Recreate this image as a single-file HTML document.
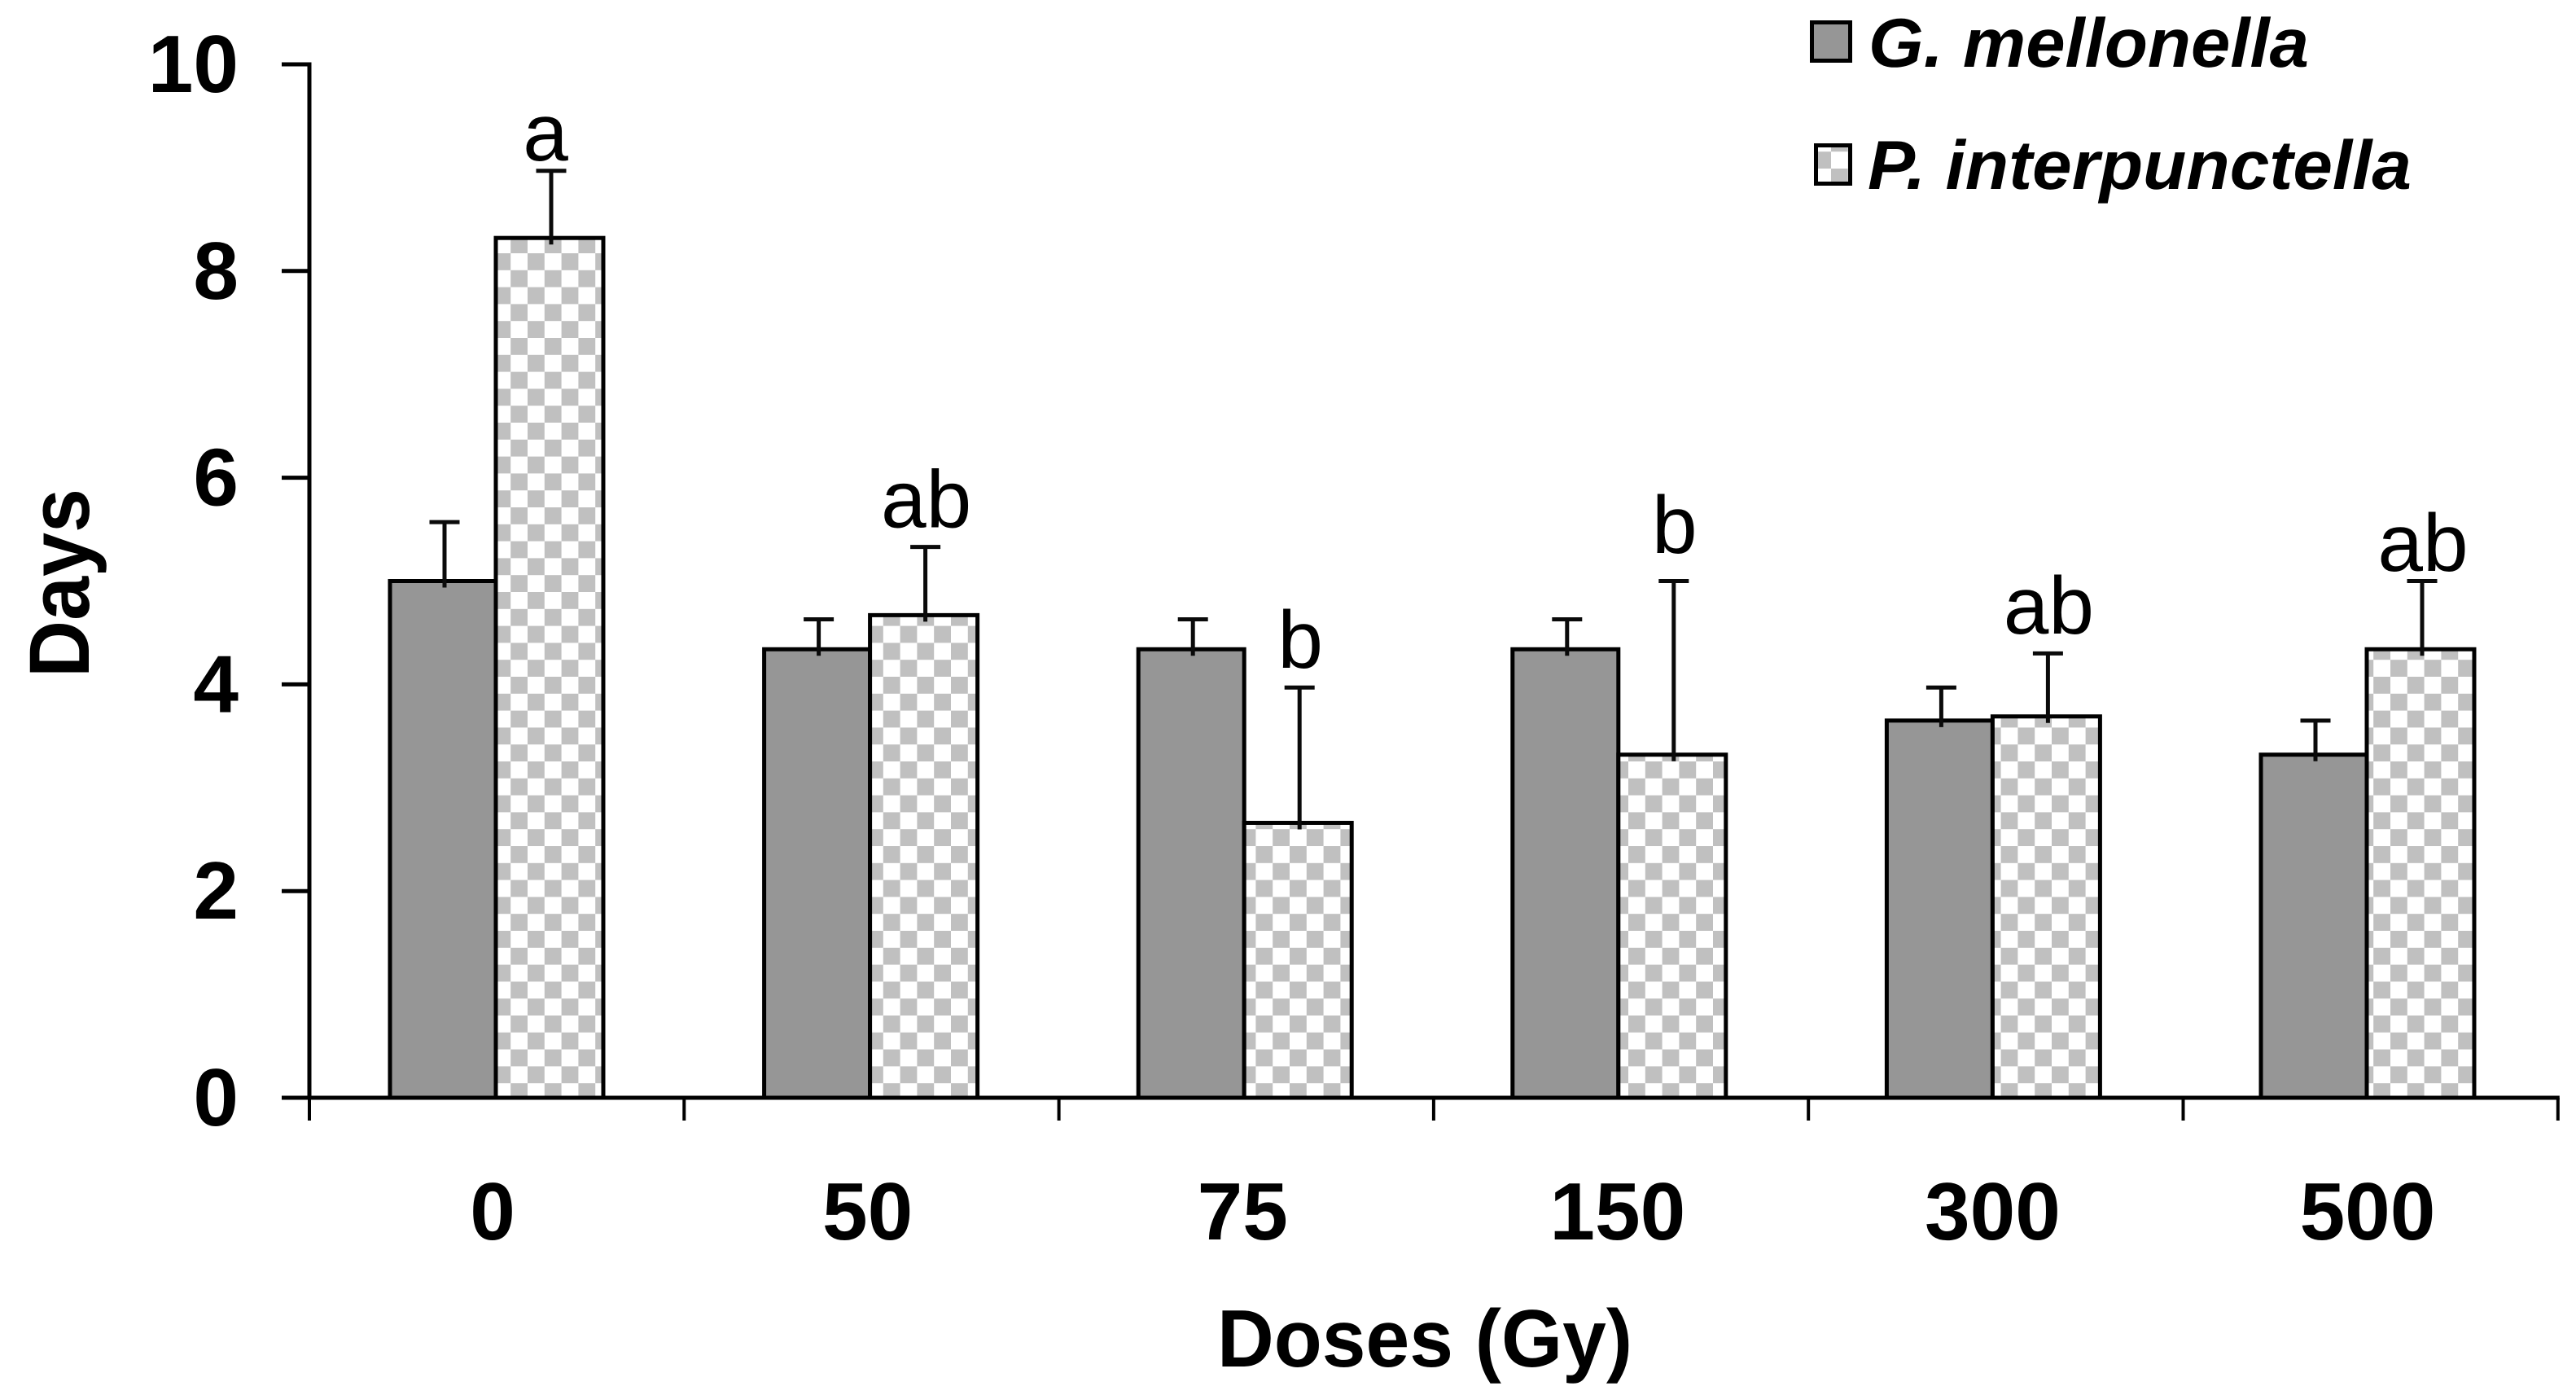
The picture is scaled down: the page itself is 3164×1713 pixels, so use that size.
<!DOCTYPE html>
<html lang="en">
<head>
<meta charset="utf-8">
<title>Days by dose for G. mellonella and P. interpunctella</title>
<style>
  html, body { margin: 0; padding: 0; background: #ffffff; }
  body { width: 3164px; height: 1713px; overflow: hidden; }
  svg { display: block; }
  text { font-family: "Liberation Sans", Arial, sans-serif; fill: #000; text-rendering: geometricPrecision; }
</style>
</head>
<body>
<svg id="chart" xmlns="http://www.w3.org/2000/svg" width="3164" height="1713" viewBox="0 0 3164 1713">
  <defs>
    <pattern id="checker" patternUnits="userSpaceOnUse" width="41.6" height="41.6" patternTransform="translate(648 311)">
      <rect width="41.6" height="41.6" fill="#ffffff"/>
      <rect width="20.8" height="20.8" fill="#c0c0c0"/>
      <rect x="20.8" y="20.8" width="20.8" height="20.8" fill="#c0c0c0"/>
    </pattern>
    <pattern id="checker-legend" patternUnits="userSpaceOnUse" width="41.6" height="41.6" patternTransform="translate(2249 207)">
      <rect width="41.6" height="41.6" fill="#ffffff"/>
      <rect width="20.8" height="20.8" fill="#c0c0c0"/>
      <rect x="20.8" y="20.8" width="20.8" height="20.8" fill="#c0c0c0"/>
    </pattern>
  </defs>
  <rect x="0" y="0" width="3164" height="1713" fill="#ffffff"/>
  <g id="bars"></g>
  <g id="errors"></g>
  <g id="letters"></g>
  <g id="axes"></g>
  <text x="1750" y="1678" font-size="100" font-weight="700" text-anchor="middle" textLength="510" lengthAdjust="spacingAndGlyphs">Doses (Gy)</text>
  <text transform="translate(109 716) rotate(-90)" font-size="105" font-weight="700" text-anchor="middle" textLength="232" lengthAdjust="spacingAndGlyphs">Days</text>
  <g>
    <g>
      <rect x="2225.5" y="27.5" width="47" height="47" fill="#969696" stroke="#000" stroke-width="5"/>
      <text x="2295" y="82" font-size="85" font-weight="700" font-style="italic" textLength="541" lengthAdjust="spacingAndGlyphs">G. mellonella</text>
    </g>
    <g>
      <rect x="2230.5" y="178.5" width="42" height="47" fill="url(#checker-legend)" stroke="#000" stroke-width="5"/>
      <text x="2294" y="232" font-size="85" font-weight="700" font-style="italic" textLength="668" lengthAdjust="spacingAndGlyphs">P. interpunctella</text>
    </g>
  </g>
</svg>
<script>
// Chart data
const categories = ["0", "50", "75", "150", "300", "500"];
const yTickLabels = [0, 2, 4, 6, 8, 10];
const mellonellaValues = [5.00, 4.34, 4.34, 4.34, 3.65, 3.32];
const mellonellaErrorTops = [5.57, 4.63, 4.63, 4.63, 3.97, 3.65];
const interpunctellaValues = [8.32, 4.67, 2.66, 3.32, 3.69, 4.34];
const interpunctellaErrorTops = [8.97, 5.33, 3.97, 5.00, 4.30, 5.00];
const significanceLetters = ["a", "ab", "b", "b", "ab", "ab"];
const significanceLevels = [9.07, 5.52, 4.16, 5.27, 4.49, 5.10];

// Axis functions
const PLOT_LEFT = 380, PLOT_BOTTOM = 1348, PLOT_TOP = 79, Y_MAX = 10;
const TICK_STEP = 460.3, GROUP_STEP = 459.6, GROUP_START = 479;
const GRAY_W = 130, CHECK_W = 132;
function yScale(v) { return PLOT_BOTTOM - (PLOT_BOTTOM - PLOT_TOP) * v / Y_MAX; }
function xTick(i) { return PLOT_LEFT + TICK_STEP * i; }
function xGroup(i) { return GROUP_START + GROUP_STEP * i; }
function xLabel(i) { return 605 + 460.6 * i; }

const NS = 'http://www.w3.org/2000/svg';
function make(tag, parent, attrs) {
  const el = document.createElementNS(NS, tag);
  for (const k in attrs) el.setAttribute(k, attrs[k]);
  parent.appendChild(el);
  return el;
}

const barsG = document.getElementById('bars');
const errorsG = document.getElementById('errors');
const lettersG = document.getElementById('letters');
const axesG = document.getElementById('axes');

function drawError(x, valueY, topY) {
  const stem = make('line', errorsG, { x1: x, x2: x, y1: valueY + 8, y2: topY, stroke: '#0a0a0a', 'stroke-width': 5 });
  
  
  const cap = make('line', errorsG, { x1: x - 18.5, x2: x + 18.5, y1: topY, y2: topY, stroke: '#0a0a0a', 'stroke-width': 5 });
  
  
}

categories.forEach(function (cat, i) {
  const left = xGroup(i);
  const grayY = yScale(mellonellaValues[i]);
  const grayBar = make('rect', barsG, { x: left, y: grayY, width: GRAY_W, height: PLOT_BOTTOM - grayY, fill: '#969696', stroke: '#000', 'stroke-width': 5 });
  
  

  const checkY = yScale(interpunctellaValues[i]);
  const checkBar = make('rect', barsG, { x: left + GRAY_W, y: checkY, width: CHECK_W, height: PLOT_BOTTOM - checkY, fill: 'url(#checker)', stroke: '#000', 'stroke-width': 5 });
  
  

  drawError(left + GRAY_W / 2 + 2, grayY, yScale(mellonellaErrorTops[i]));
  drawError(left + GRAY_W + CHECK_W / 2 + 2, checkY, yScale(interpunctellaErrorTops[i]));

  const letter = make('text', lettersG, { x: left + GRAY_W + CHECK_W / 2 + (i === 0 ? -5 : 3), y: yScale(significanceLevels[i]), 'font-size': 100, 'text-anchor': 'middle' });
  
  
  letter.textContent = significanceLetters[i];

  const xLab = make('text', axesG, { x: xLabel(i), y: 1522, 'font-size': 100, 'font-weight': 700, 'text-anchor': 'middle' });
  
  
  xLab.textContent = cat;
});

// Y axis
const yAxis = make('line', axesG, { x1: PLOT_LEFT, x2: PLOT_LEFT, y1: PLOT_TOP - 2.5, y2: PLOT_BOTTOM + 2.5, stroke: '#000', 'stroke-width': 5 });



yTickLabels.forEach(function (v) {
  const y = yScale(v);
  const t = make('line', axesG, { x1: 346, x2: PLOT_LEFT, y1: y, y2: y, stroke: '#000', 'stroke-width': 5 });
  
  
  const lab = make('text', axesG, { x: 293, y: y + 34, 'font-size': 100, 'font-weight': 700, 'text-anchor': 'end' });
  
  
  lab.textContent = String(v);
});

// X axis
const xAxis = make('line', axesG, { x1: 346, x2: xTick(categories.length) + 2, y1: PLOT_BOTTOM, y2: PLOT_BOTTOM, stroke: '#000', 'stroke-width': 5 });



for (let i = 0; i <= categories.length; i++) {
  const t = make('line', axesG, { x1: xTick(i), x2: xTick(i), y1: PLOT_BOTTOM, y2: 1376, stroke: '#000', 'stroke-width': 4 });
  
  
}
</script>
</body>
</html>
